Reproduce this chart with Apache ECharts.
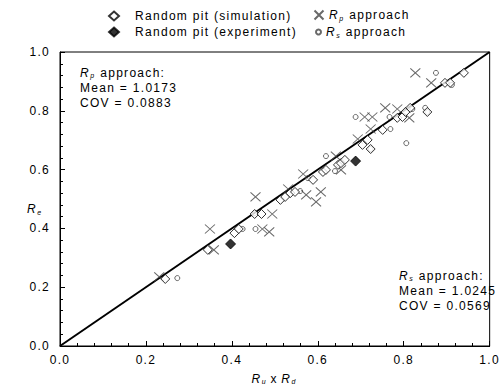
<!DOCTYPE html>
<html>
<head>
<meta charset="utf-8">
<script src="https://cdn.jsdelivr.net/npm/echarts@6/dist/echarts.min.js"></script>
<style>
html,body{margin:0;padding:0;background:#fff;}
#c{width:501px;height:391px;}
#c svg text{letter-spacing:1.3px;}
</style>
</head>
<body>
<div id="c"></div>
<script>
// Random pit (simulation): [Ru x Rd, Re]
var simData = [
  [0.245,0.228],[0.344,0.327],[0.406,0.384],[0.416,0.398],[0.453,0.449],[0.469,0.449],
  [0.513,0.497],[0.524,0.507],[0.536,0.520],[0.547,0.524],[0.589,0.565],[0.612,0.592],
  [0.619,0.599],[0.647,0.616],[0.654,0.622],[0.663,0.633],[0.704,0.684],[0.716,0.701],
  [0.723,0.670],[0.751,0.735],[0.785,0.776],[0.797,0.779],[0.804,0.796],[0.815,0.810],
  [0.855,0.796],[0.896,0.895],[0.908,0.895],[0.940,0.929]
];
// Random pit (experiment)
var expData = [[0.397,0.347],[0.688,0.629]];
// Rp approach
var rpData = [
  [0.231,0.235],[0.349,0.398],[0.358,0.327],[0.455,0.507],[0.471,0.398],[0.487,0.388],
  [0.494,0.449],[0.531,0.534],[0.566,0.585],[0.573,0.514],[0.596,0.490],[0.607,0.524],
  [0.642,0.646],[0.654,0.599],[0.693,0.704],[0.709,0.779],[0.727,0.779],[0.723,0.738],
  [0.757,0.810],[0.785,0.806],[0.813,0.776],[0.827,0.929],[0.864,0.895]
];
// Rs approach
var rsData = [
  [0.273,0.231],[0.425,0.398],[0.455,0.398],[0.453,0.452],[0.559,0.527],[0.577,0.571],
  [0.619,0.646],[0.640,0.595],[0.688,0.779],[0.723,0.670],[0.767,0.779],[0.769,0.738],
  [0.806,0.690],[0.820,0.806],[0.850,0.810],[0.855,0.796],[0.875,0.929],[0.912,0.888]
];
var lineData = [[0,0],[1,1]];
var tickLabels = ['0.0','0.2','0.4','0.6','0.8','1.0'];

var font = 'Liberation Sans, Arial, sans-serif';
var rich = {
  i: {fontStyle:'italic', fontSize:12, fontFamily:font, color:'#000', padding:[0,1.5,0,0]},
  sub: {fontStyle:'italic', fontSize:7, fontFamily:font, color:'#000', padding:[6,1.5,0,0]},
  n: {fontSize:12, fontFamily:font, color:'#000', padding:[0,1.5,0,0]},
  sp: {width:11, fontSize:12, color:'#fff'}
};
var crossPath = 'path://M0,0L10,10M10,0L0,10';

var chart = echarts.init(document.getElementById('c'), null, {renderer:'svg'});
function axisCommon(){
  return {
    type:'value', min:0, max:1, interval:0.2,
    axisLine:{show:true, onZero:false, lineStyle:{color:'#000', width:1}},
    axisTick:{show:true, inside:true, length:5, lineStyle:{color:'#000'}},
    minorTick:{show:true, splitNumber:5, length:3, lineStyle:{color:'#000'}},
    splitLine:{show:false},
    axisLabel:{color:'#000', fontSize:12, fontFamily:font,
      formatter:function(v){ return tickLabels[Math.round(v/0.2)]; }}
  };
}
var xAxis = axisCommon();
xAxis.name = '{i|R}{sub|u}{n| x }{i|R}{sub|d}';
xAxis.nameLocation='middle'; xAxis.nameGap=26;
xAxis.nameTextStyle={rich:rich};
xAxis.axisLabel.margin = 8;
var yAxis = axisCommon();
yAxis.axisLabel.margin = 10;

var legendText = {
  'Random pit (simulation)':'{sp| }{n|Random pit (simulation)}',
  'Random pit (experiment)':'{sp| }{n|Random pit (experiment)}',
  'Rp approach':'{i|R}{sub|p}{n| approach}',
  'Rs approach':'{i|R}{sub|s}{n| approach}'
};
function leg(name, left, top, w, h){
  return {left:left, top:top, orient:'horizontal', padding:0, itemGap:0, itemWidth:w, itemHeight:h,
    textStyle:{fontSize:12, fontFamily:font, color:'#000', rich:rich},
    formatter:function(n){ return legendText[n]; },
    data:[name]};
}

chart.setOption({
  animation:false,
  backgroundColor:'#fff',
  grid:{left:60, right:8, top:52, bottom:45, show:true, borderColor:'#000', borderWidth:1, backgroundColor:'transparent'},
  xAxis:xAxis,
  yAxis:yAxis,
  legend:[
    leg('Random pit (simulation)', 108, 10, 10, 9),
    leg('Random pit (experiment)', 108, 26, 10, 9),
    leg('Rp approach', 312, 8, 10, 9),
    leg('Rs approach', 315, 26, 5, 5)
  ],
  graphic:[
    {type:'text', left:27, top:203, style:{text:'{i|R}{sub|e}', rich:rich, fill:'#000'}},
    {type:'text', left:80, top:65, style:{text:'{i|R}{sub|p}{n| approach:}\n{n|Mean = 1.0173}\n{n|COV = 0.0883}', rich:rich, lineHeight:15, fill:'#000'}},
    {type:'text', left:399, top:268, style:{text:'{i|R}{sub|s}{n| approach:}\n{n|Mean = 1.0245}\n{n|COV = 0.0569}', rich:rich, lineHeight:15, fill:'#000'}}
  ],
  series:[
    {type:'line', data:lineData, symbol:'none', lineStyle:{color:'#000', width:2}, silent:true, z:1},
    {name:'Random pit (simulation)', type:'scatter', data:simData, symbol:'diamond', symbolSize:[9,9],
     itemStyle:{color:'#fff', borderColor:'#000', borderWidth:1}, z:3},
    {name:'Random pit (experiment)', type:'scatter', data:expData, symbol:'diamond', symbolSize:[10,10],
     itemStyle:{color:'#000', borderColor:'#000', borderWidth:1}, z:4},
    {name:'Rp approach', type:'scatter', data:rpData, symbol:crossPath, symbolSize:[10,9],
     itemStyle:{color:'none', borderColor:'#444', borderWidth:1}, z:2},
    {name:'Rs approach', type:'scatter', data:rsData, symbol:'circle', symbolSize:5,
     itemStyle:{color:'transparent', borderColor:'#444', borderWidth:1}, z:2}
  ]
});
</script>
</body>
</html>
